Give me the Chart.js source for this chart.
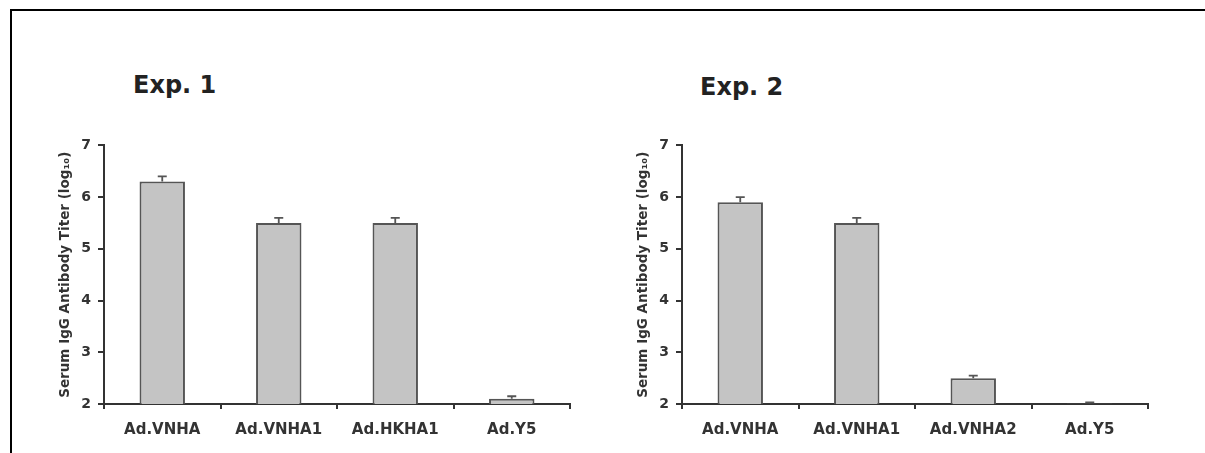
<!DOCTYPE html>
<html>
<head>
<meta charset="utf-8">
<script src="https://cdn.jsdelivr.net/npm/chart.js@4.4.1/dist/chart.umd.min.js"></script>
<style>
  body { margin: 0; background: #fff; }
  #page { position: relative; width: 1205px; height: 453px; overflow: hidden; }
  #frame { position: absolute; left: 10px; top: 9px; right: -5px; bottom: -5px;
           border-top: 2px solid #000; border-left: 2px solid #000; }
  .exp { position: absolute; font: bold 24px "DejaVu Sans"; line-height: 24px; color: #222; }
  .box { position: absolute; top: 130px; width: 550px; height: 323px; }
</style>
</head>
<body>
<div id="page">
  <div id="frame"></div>
  <div class="exp" style="left:133px; top:73px;">Exp. 1</div>
  <div class="exp" style="left:700px; top:75px;">Exp. 2</div>
  <div class="box" style="left:30px;"><canvas id="chart1"></canvas></div>
  <div class="box" style="left:608px;"><canvas id="chart2"></canvas></div>
</div>
<script>
// Dane
const labels1 = ['Ad.VNHA', 'Ad.VNHA1', 'Ad.HKHA1', 'Ad.Y5'];
const values1 = [6.3, 5.5, 5.5, 2.1];
const errors1 = [0.1, 0.1, 0.1, 0.05];

const labels2 = ['Ad.VNHA', 'Ad.VNHA1', 'Ad.VNHA2', 'Ad.Y5'];
const values2 = [5.9, 5.5, 2.5, 2.01];
const errors2 = [0.1, 0.1, 0.05, 0.02];

const yTicks = [2, 3, 4, 5, 6, 7];
const yTitle = 'Serum IgG Antibody Titer (log\u2081\u2080)';

// Słupki błędów (tylko górne)
const errorBars = {
    id: 'errorBars',
    afterDatasetsDraw(chart, args, opts) {
        const ctx = chart.ctx;
        const yScale = chart.scales.y;
        const meta = chart.getDatasetMeta(0);
        const data = chart.data.datasets[0].data;
        ctx.save();
        ctx.strokeStyle = '#555';
        ctx.lineWidth = 1.8;
        meta.data.forEach((bar, i) => {
            const top = yScale.getPixelForValue(data[i] + opts.errors[i]);
            ctx.beginPath();
            ctx.moveTo(bar.x, bar.y);
            ctx.lineTo(bar.x, top);
            ctx.moveTo(bar.x - 4.5, top);
            ctx.lineTo(bar.x + 4.5, top);
            ctx.stroke();
        });
        ctx.restore();
    }
};

function makeChart(id, labels, values, errors) {
    const ctx = document.getElementById(id).getContext('2d');
    return new Chart(ctx, {
        type: 'bar',
        data: {
            labels: labels,
            datasets: [{
                data: values,
                backgroundColor: '#c4c4c4',
                borderColor: '#555',
                borderWidth: 2,
                categoryPercentage: 1,
                barPercentage: 0.39
            }]
        },
        plugins: [errorBars],
        options: {
            responsive: true,
            maintainAspectRatio: false,
            animation: false,
            layout: { padding: { left: 0, right: 10, top: 14, bottom: 0 } },
            plugins: {
                legend: { display: false },
                tooltip: { enabled: false },
                errorBars: { errors: errors }
            },
            scales: {
                x: {
                    afterFit: s => { s.height = 49; },
                    grid: { offset: true, drawOnChartArea: false, tickLength: 5, color: '#333', lineWidth: 2 },
                    border: { display: true, color: '#333', width: 2 },
                    ticks: { color: '#333', padding: 12, font: { family: 'DejaVu Sans', weight: 'bold', size: 15 } }
                },
                y: {
                    min: 2,
                    max: 7,
                    afterFit: s => { s.width = 74; },
                    afterBuildTicks: s => { s.ticks = yTicks.map(v => ({ value: v })); },
                    grid: { drawOnChartArea: false, tickLength: 6, color: '#333', lineWidth: 2 },
                    border: { display: true, color: '#333', width: 2 },
                    ticks: { color: '#333', padding: 7, font: { family: 'DejaVu Sans', weight: 'bold', size: 14 } },
                    title: {
                        display: true,
                        text: yTitle,
                        color: '#333',
                        padding: { top: 27, bottom: 0 },
                        font: { family: 'DejaVu Sans', weight: 'bold', size: 13.5 }
                    }
                }
            }
        }
    });
}

makeChart('chart1', labels1, values1, errors1);
makeChart('chart2', labels2, values2, errors2);
</script>
</body>
</html>
